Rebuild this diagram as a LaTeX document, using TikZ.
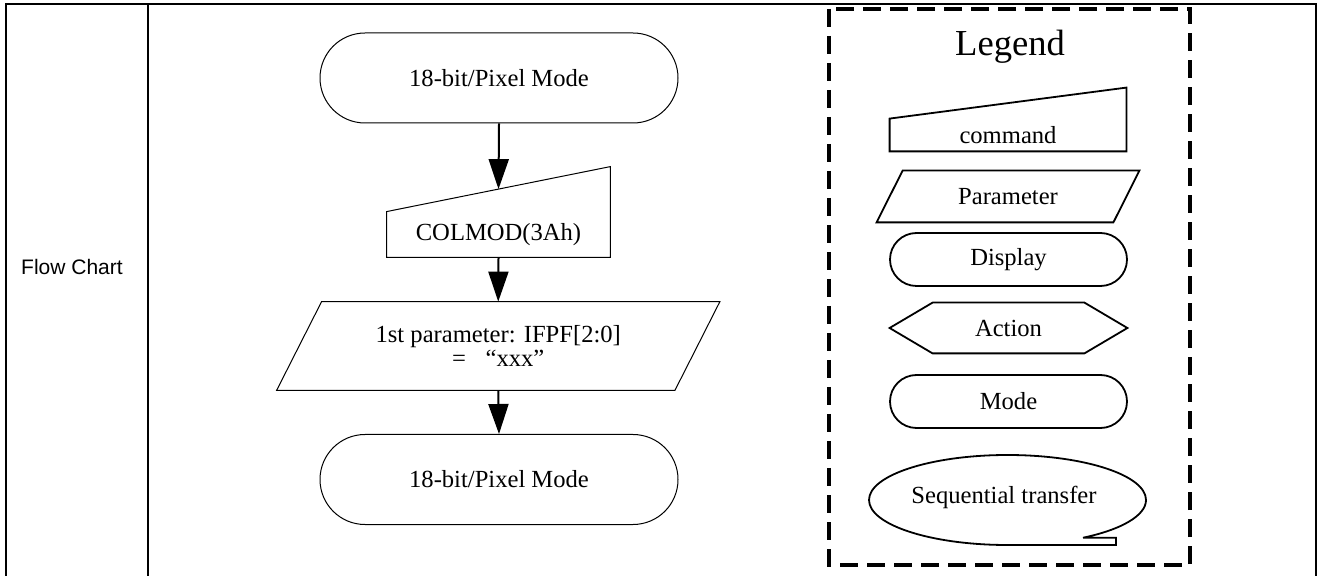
\documentclass[tikz,border=0pt]{standalone}
\usepackage{fontspec}
\setmainfont{Liberation Serif}
\newfontfamily\tablefont{Liberation Sans}
\usetikzlibrary{arrows.meta, shapes.misc, calc}

\tikzset{
  cell/.style={line width=1.4pt},
  thinline/.style={line width=0.5pt},
  legline/.style={line width=0.9pt},
  terminal/.style={rounded rectangle, draw, thinline, minimum width=179pt, minimum height=45pt, inner sep=0pt},
  legterm/.style={rounded rectangle, draw, legline, minimum width=118.5pt, minimum height=26.5pt, inner sep=0pt},
  blank/.style={inner sep=0pt},
  flow/.style={line width=1pt, -{Triangle[length=15pt, width=10pt]}},
}

\begin{document}
\begin{tikzpicture}[x=0.5pt, y=-0.5pt, font=\fontsize{12.3}{10.5}\selectfont]
  \useasboundingbox (0,0) rectangle (1321,576);
  % Table cells
  \draw[cell] (6,576) -- (6,4) -- (1316,4) -- (1316,576);
  \draw[cell] (148,4) -- (148,576);
  \node[font=\tablefont\fontsize{10.5}{12}\selectfont] (title) at (72,267) {Flow Chart};

  % Flow chart
  \node[terminal] (start) at (499,78) {18-bit/Pixel Mode};
  \node[blank, minimum width=111.5pt, minimum height=22.5pt] (colmod) at (498.5,234.5) {COLMOD(3Ah)};
  \draw[thinline] (colmod.north west) -- ($(colmod.north east)+(0,-45)$)
    -- (colmod.south east) -- (colmod.south west) -- cycle;
  \node[blank, minimum width=198.75pt, minimum height=44pt, align=center] (ifpf) at (498.25,346)
    {1st parameter: IFPF[2:0]\\ =\hspace{0.8em}“xxx”};
  \draw[thinline] ($(ifpf.north west)+(22.5,0)$) -- ($(ifpf.north east)+(22.5,0)$)
    -- ($(ifpf.south east)+(-22.5,0)$) -- ($(ifpf.south west)+(-22.5,0)$) -- cycle;
  \node[terminal] (stop) at (499,479.5) {18-bit/Pixel Mode};

  \draw[flow] (start.south) -- ($(colmod.north)+(0,-22.5)$);
  \draw[flow] (colmod.south) -- (ifpf.north);
  \draw[flow] (ifpf.south) -- (stop.north);

  % Legend
  \draw[line width=1.7pt, dash pattern=on 9pt off 4.5pt] (829,9) rectangle (1190,565);
  \node[font=\fontsize{18.3}{20}\selectfont] (legend) at (1010,47) {Legend};

  \node[blank, minimum width=118pt, minimum height=16pt] (lcmd) at (1008,135) {command};
  \draw[legline] (lcmd.north west) -- ($(lcmd.north east)+(0,-31)$)
    -- (lcmd.south east) -- (lcmd.south west) -- cycle;

  \node[blank, minimum width=118pt, minimum height=25.5pt] (lpar) at (1008,196.5) {Parameter};
  \draw[legline] ($(lpar.north west)+(13,0)$) -- ($(lpar.north east)+(13,0)$)
    -- ($(lpar.south east)+(-13,0)$) -- ($(lpar.south west)+(-13,0)$) -- cycle;

  \node[legterm] (ldisp) at (1008.5,259.5) {Display};

  \node[blank, minimum width=118.5pt, minimum height=25pt] (lact) at (1008.5,328) {Action};
  \draw[legline] (lact.west) -- ($(lact.north west)+(43,0)$) -- ($(lact.north east)+(-43,0)$)
    -- (lact.east) -- ($(lact.south east)+(-43,0)$) -- ($(lact.south west)+(43,0)$) -- cycle;

  \node[legterm] (lmode) at (1008.5,401.5) {Mode};

  \node[blank] (lseq) at (1004,497) {Sequential transfer};
  \draw[legline] (1083,537.7) -- (1116,537.7) -- (1116,545) -- (1007.5,545)
    arc[start angle=270, end angle=-57, x radius=69.25pt, y radius=22.5pt];
\end{tikzpicture}
\end{document}
